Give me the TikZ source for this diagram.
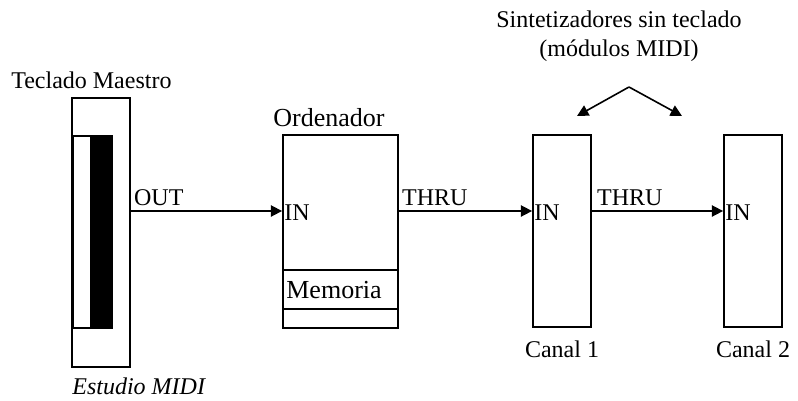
\documentclass[tikz,border=0pt]{standalone}
\usepackage{fontspec}
\setmainfont{Liberation Serif}
\usetikzlibrary{arrows.meta, positioning, calc}

\begin{document}
\begin{tikzpicture}[x=0.75pt, y=-0.75pt,
            box/.style={draw, line width=1.35pt, inner sep=0pt, fill=white},
            key/.style={box, minimum width=#1, minimum height=144pt},
            lbl/.style={font=\fontsize{18}{21.75}\selectfont, inner sep=0pt},
            big/.style={lbl, font=\fontsize{19.5}{21.75}\selectfont},
            midi/.style={line width=1.2pt, -{Triangle[length=8.5pt, width=8.5pt]}}
        ]
        \useasboundingbox (0,0) rectangle (798,400);

        % Teclado maestro
        \node[box, minimum width=43.5pt, minimum height=201.75pt] (kbd) at (101,232.5) {};
        \node[key=13.5pt] (white) at (82,232) {};
        \node[key=15.75pt, fill=black] (black) at (101.25,232) {};

        % Ordenador con memoria
        \node[box, minimum width=86.25pt, minimum height=144.75pt] (pc) at (340.5,231.5) {};
        \node[box, minimum width=86.25pt, minimum height=29.25pt] (mem) at (340.5,289.5) {};
        \node[big, anchor=base west] (memlbl) at ($(mem.west)+(4,9)$) {Memoria};

        % Modulos
        \node[key=43.5pt] (c1) at (562,231) {};
        \node[key=43.5pt] (c2) at (753,231) {};

        % Conexiones MIDI
        \coordinate (row) at (0,211);
        \draw[midi] (kbd.east |- row) -- (pc.west |- row);
        \draw[midi] (pc.east |- row) -- (c1.west |- row);
        \draw[midi] (c1.east |- row) -- (c2.west |- row);

        \node[lbl, anchor=base west] (out) at ($(kbd.east |- row)+(3,-6)$) {OUT};
        \node[lbl, anchor=base west] (thru1) at ($(pc.east |- row)+(3,-6)$) {THRU};
        \node[lbl, anchor=base west] (thru2) at ($(c1.east |- row)+(5,-6)$) {THRU};
        \node[lbl, anchor=base west] (in1) at ($(pc.west |- row)+(2,9)$) {IN};
        \node[lbl, anchor=base west] (in2) at ($(c1.west |- row)+(2,9)$) {IN};
        \node[lbl, anchor=base west] (in3) at ($(c2.west |- row)+(2,9)$) {IN};

        % Labels
        \node[lbl, anchor=base west] (master) at (11,88) {Teclado Maestro};
        \node[lbl, anchor=base west, font=\fontsize{18}{21.75}\selectfont\itshape] (studio) at ($(kbd.south west)+(1,27)$) {Estudio MIDI};
        \node[big, anchor=base west] (pclbl) at ($(pc.north west)+(-9,-8)$) {Ordenador};
        \node[lbl, anchor=base] (c1lbl) at ($(c1.south)+(0,30)$) {Canal 1};
        \node[lbl, anchor=base] (c2lbl) at ($(c2.south)+(0,30)$) {Canal 2};

        \node[lbl, align=center, anchor=north] (title) at (619,11) {Sintetizadores sin teclado\\(módulos MIDI)};
        \coordinate (apex) at (629,87);
        \coordinate (tipl) at (577,116);
        \coordinate (tipr) at (682,116);
        \draw[midi] (apex) -- (tipl);
        \draw[midi] (apex) -- (tipr);

        \end{tikzpicture}
\end{document}
